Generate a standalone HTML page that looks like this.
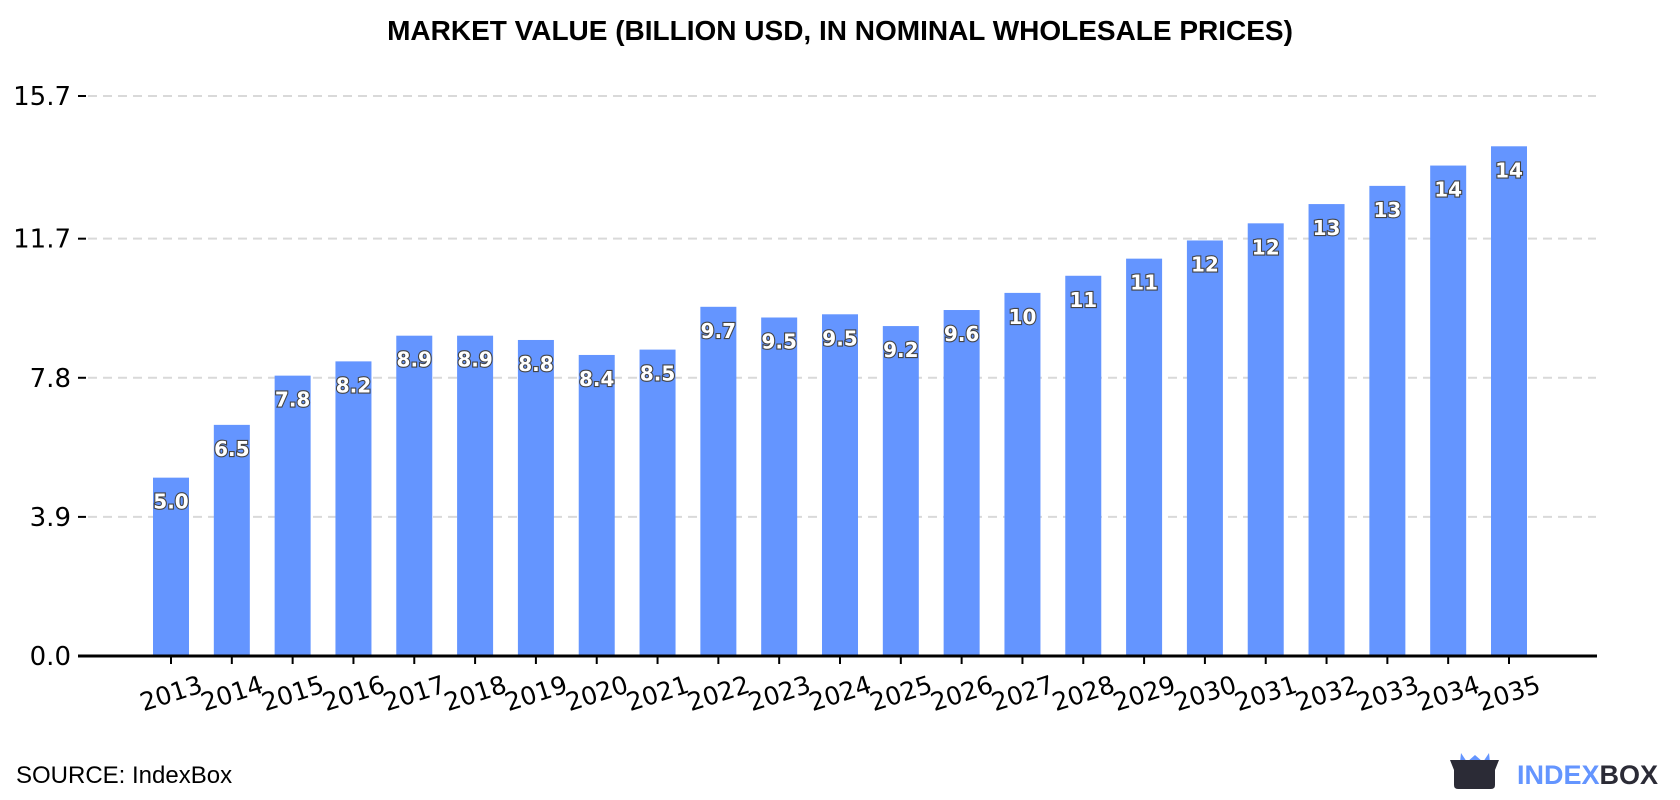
<!DOCTYPE html>
<html><head><meta charset="utf-8"><style>
html,body{margin:0;padding:0;background:#fff;}
svg{display:block;}
</style></head><body>
<svg id="chart" width="1680" height="800" viewBox="0 0 1680 800" xmlns="http://www.w3.org/2000/svg" font-family="DejaVu Sans, Liberation Sans, sans-serif">
<text x="840" y="40" text-anchor="middle" font-family="Liberation Sans, sans-serif" font-weight="bold" font-size="28" fill="#000">MARKET VALUE (BILLION USD, IN NOMINAL WHOLESALE PRICES)</text>
<g id="grid"></g>
<g id="bars"></g>
<g id="xaxis"></g>
<g id="yaxis"></g>
<text x="16" y="783" font-family="Liberation Sans, sans-serif" font-size="24" fill="#000">SOURCE: IndexBox</text>
<g>
<path d="M1461,753 L1467,762 L1475,755 L1483,762 L1489,753 L1491,772 L1459,772 Z" fill="#6495ff"/>
<path d="M1450,760 L1499,760 L1495,770 L1495,785 Q1495,789 1491,789 L1458,789 Q1454,789 1454,785 L1454,770 Z" fill="#2b2b36"/>
<text x="1517" y="784" font-family="Liberation Sans, sans-serif" font-weight="bold" font-size="27" fill="#6495ff">INDEX<tspan fill="#2b2b36">BOX</tspan></text>
</g>
</svg>
<script>
const categories = ["2013","2014","2015","2016","2017","2018","2019","2020","2021","2022","2023","2024","2025","2026","2027","2028","2029","2030","2031","2032","2033","2034","2035"];
const values = [5.0,6.48,7.86,8.26,8.98,8.98,8.86,8.44,8.59,9.79,9.49,9.58,9.25,9.70,10.18,10.66,11.14,11.65,12.13,12.67,13.18,13.75,14.29];
const valueLabels = ["5.0","6.5","7.8","8.2","8.9","8.9","8.8","8.4","8.5","9.7","9.5","9.5","9.2","9.6","10","11","11","12","12","13","13","14","14"];
const yTicks = [0,3.9,7.8,11.7,15.7];
const yTickLabels = ["0.0","3.9","7.8","11.7","15.7"];

const NS="http://www.w3.org/2000/svg";
const y0=656, yTop=96, yMax=15.7;
const xFirst=171, xStep=(1509-171)/22, barW=36;
function yScale(v){return y0-(v/yMax)*(y0-yTop);}
function xScale(i){return xFirst+i*xStep;}
function mk(tag,attrs,parent){const e=document.createElementNS(NS,tag);for(const k in attrs)e.setAttribute(k,attrs[k]);parent.appendChild(e);return e;}

const grid=document.getElementById('grid'), bars=document.getElementById('bars'), xa=document.getElementById('xaxis'), ya=document.getElementById('yaxis');
yTicks.forEach((t,i)=>{
  const y=yScale(t);
  if(t>0){
    const l=mk('line',{x1:88,x2:1596,y1:y,y2:y,stroke:'#d9d9d9','stroke-width':2,'stroke-dasharray':'9,6'},grid);
    
    
  }
  const tk=mk('line',{x1:78,x2:86,y1:y,y2:y,stroke:'#000','stroke-width':2},ya);
  
  
  const tx=mk('text',{x:71,y:y+9,'text-anchor':'end','font-size':26,fill:'#000'},ya);
  tx.textContent=yTickLabels[i];
  
  
});
categories.forEach((c,i)=>{
  const x=xScale(i), y=yScale(values[i]);
  const r=mk('rect',{x:x-barW/2,y:y,width:barW,height:y0-y,fill:'#6495ff'},bars);
  
  
  const t=mk('text',{x:x,y:y+31,'text-anchor':'middle','font-size':20,'font-weight':'bold',fill:'#fff',stroke:'#444','stroke-width':2.2,'paint-order':'stroke'},bars);
  t.textContent=valueLabels[i];
  
  
  const tk=mk('line',{x1:x,x2:x,y1:y0,y2:y0+8,stroke:'#000','stroke-width':2},xa);
  
  
  const lb=mk('text',{x:x,y:y0+46,'text-anchor':'middle','font-size':25,fill:'#000',transform:'rotate(-18 '+x+' '+(y0+37)+')'},xa);
  lb.textContent=c;
  
  
});
const ax=mk('line',{x1:78,x2:1597,y1:y0,y2:y0,stroke:'#000','stroke-width':3},xa);


</script>
</body></html>
